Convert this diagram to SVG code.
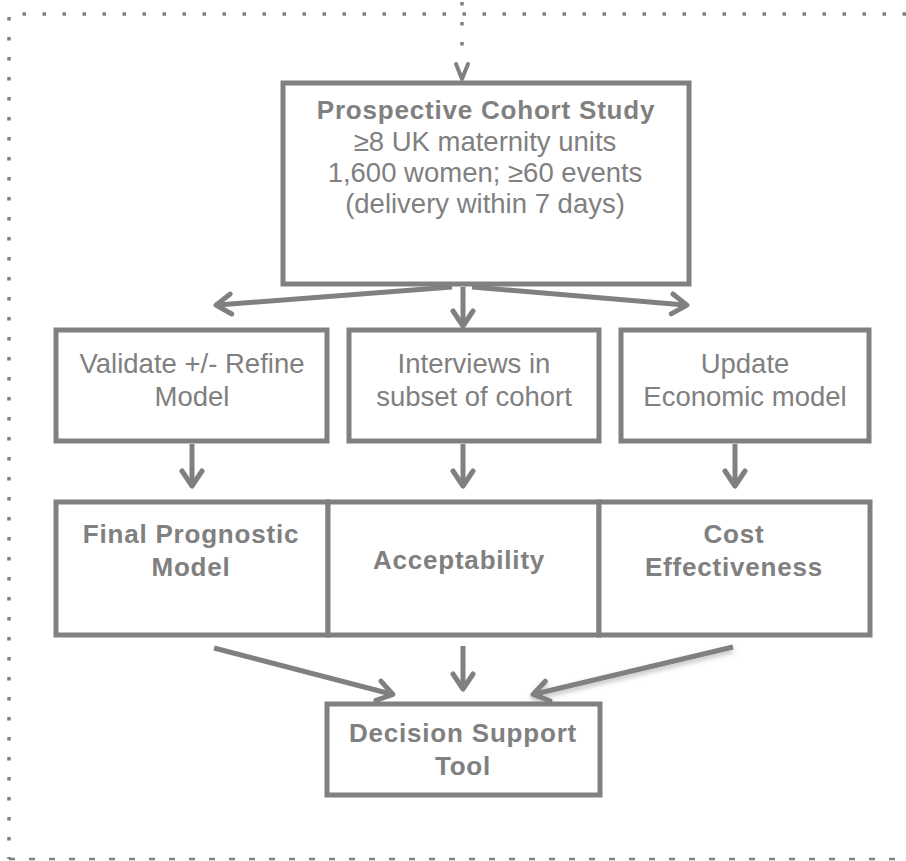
<svg xmlns="http://www.w3.org/2000/svg" width="906" height="861" viewBox="0 0 906 861">
<defs>
<style>
.box{fill:#fff;stroke:#808080;stroke-width:5}
.t{font-family:"Liberation Sans",Arial,sans-serif;font-size:27.5px;fill:#808080;text-anchor:middle}
.b{font-size:26px;font-weight:bold;letter-spacing:0.8px}
.c{stroke:#808080;stroke-width:5;fill:none}
.dot{stroke:#808080;stroke-width:3.5;fill:none;stroke-dasharray:3.5 16.5}
</style>
<marker id="ah" viewBox="-22 -14 26 28" refX="-3" refY="0" markerWidth="26" markerHeight="28" markerUnits="userSpaceOnUse" orient="auto">
<path d="M-16,-10 L-1,0 L-16,10" fill="none" stroke="#808080" stroke-width="5" stroke-linecap="round" stroke-linejoin="round"/>
</marker>
<filter id="sh" x="-20%" y="-50%" width="140%" height="200%">
<feDropShadow dx="0" dy="3" stdDeviation="2.5" flood-color="#000" flood-opacity="0.25"/>
</filter>
</defs>
<g id="frame">
<path class="dot" d="M906,14 H9 V859"/>
<path class="dot" d="M9,859 H906" style="stroke-width:2.5;stroke-dasharray:6 14"/>
</g>
<g id="connectors">
<path class="dot" d="M462,2 V60"/>
<path d="M456,64 L462,79 L468,64" fill="none" stroke="#808080" stroke-width="4" stroke-linejoin="round" stroke-linecap="round"/>
<path class="c" d="M452,287 L218,305" marker-end="url(#ah)"/>
<path class="c" d="M463,287 V324" marker-end="url(#ah)"/>
<path class="c" d="M472,287 L685,305" marker-end="url(#ah)"/>
<path class="c" d="M192,444 V484" marker-end="url(#ah)"/>
<path class="c" d="M463,444 V484" marker-end="url(#ah)"/>
<path class="c" d="M735,444 V484" marker-end="url(#ah)"/>
<path class="c" d="M214,648 L391,694" marker-end="url(#ah)"/>
<path class="c" d="M463,646 V687" marker-end="url(#ah)"/>
<path class="c" d="M733,647 L535,694" marker-end="url(#ah)" filter="url(#sh)"/>
</g>
<g id="n-cohort">
<rect class="box" x="283" y="83" width="406" height="201"/>
<text class="t b" x="486" y="119">Prospective Cohort Study</text>
<text class="t" x="485" y="151">≥8 UK maternity units</text>
<text class="t" x="485" y="182">1,600 women; ≥60 events</text>
<text class="t" x="485" y="213">(delivery within 7 days)</text>
</g>
<g id="n-validate">
<rect class="box" x="56" y="330" width="271" height="111"/>
<text class="t" x="192" y="373">Validate +/- Refine</text>
<text class="t" x="192" y="406">Model</text>
</g>
<g id="n-interviews">
<rect class="box" x="349" y="330" width="250" height="111"/>
<text class="t" x="474" y="373">Interviews in</text>
<text class="t" x="474" y="406">subset of cohort</text>
</g>
<g id="n-economic">
<rect class="box" x="621" y="330" width="248" height="111"/>
<text class="t" x="745" y="373">Update</text>
<text class="t" x="745" y="406">Economic model</text>
</g>
<g id="n-final">
<rect class="box" x="56" y="502" width="272" height="133"/>
<text class="t b" x="191" y="543">Final Prognostic</text>
<text class="t b" x="191" y="576">Model</text>
</g>
<g id="n-accept">
<rect class="box" x="328" y="502" width="271" height="133"/>
<text class="t b" x="459" y="569">Acceptability</text>
</g>
<g id="n-cost">
<rect class="box" x="599" y="502" width="271" height="133"/>
<text class="t b" x="734" y="543">Cost</text>
<text class="t b" x="734" y="576">Effectiveness</text>
</g>
<g id="n-decision">
<rect class="box" x="327" y="704" width="273" height="91"/>
<text class="t b" x="463" y="742">Decision Support</text>
<text class="t b" x="463" y="775">Tool</text>
</g>
</svg>
